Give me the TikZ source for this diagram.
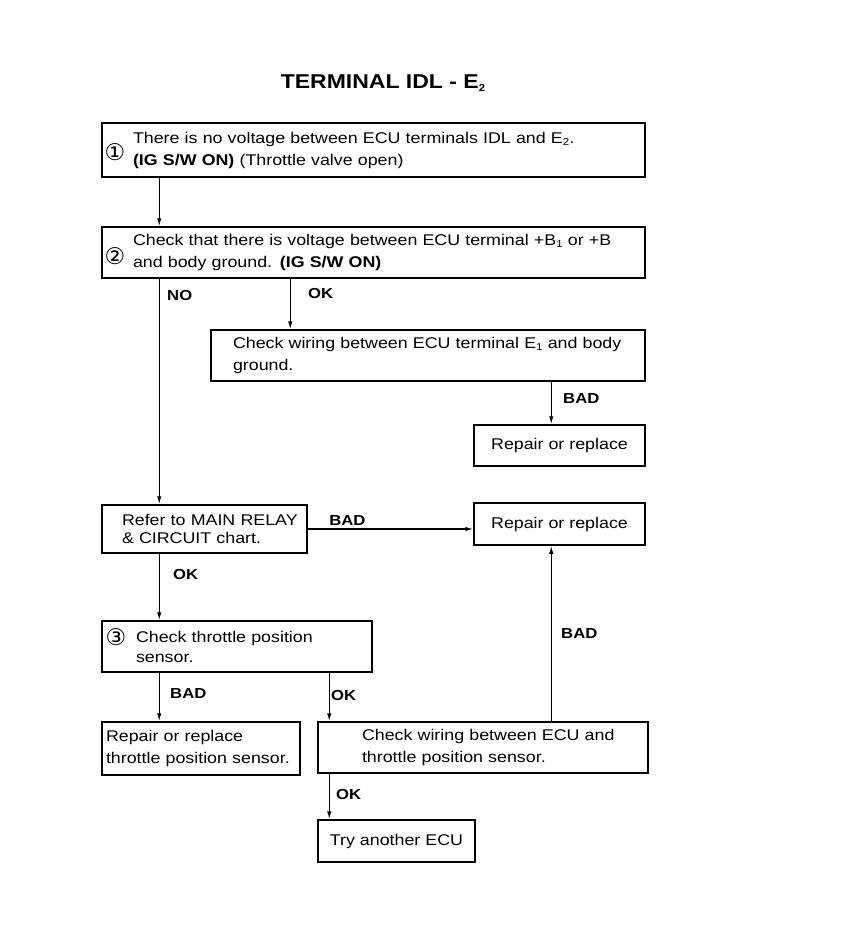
\documentclass[tikz,border=0pt]{standalone}
\usepackage{fontspec}
\setmainfont{Liberation Sans}[FakeStretch=1.15]
\newfontfamily\circfont{DejaVu Sans}
\usetikzlibrary{arrows.meta}
\newcommand{\lowidx}[1]{\raisebox{-0.25ex}{\fontsize{10}{10}\selectfont #1}}

\begin{document}
\begin{tikzpicture}[x=1pt, y=-1pt,
    box/.style={draw, line width=1.5pt, align=left, inner ysep=0pt, font=\fontsize{15.5}{22}\selectfont},
    flow/.style={line width=1.3pt, -{Latex[length=8pt, width=4.5pt]}},
    tag/.style={font=\bfseries\fontsize{14.5}{16}\selectfont},
    num/.style={font=\circfont\fontsize{23}{23}\selectfont, inner sep=0pt}]
    \useasboundingbox (0,0) rectangle (842,944);
    \node (title) at (383,83) {\bfseries\fontsize{20}{24}\selectfont TERMINAL IDL - E\lowidx{2}};

    % step 1 and 2
    \node [box, minimum width=543, minimum height=54, inner xsep=31, text width=481] (check1) at (373.5,150)
        {\mbox{There is no voltage between ECU terminals IDL and E\lowidx{2}.}\\ \mbox{\textbf{(IG S/W ON)} (Throttle valve open)}};
    \node [num] (n1) at (115,152) {①};
    \node [box, minimum width=543, minimum height=51, inner xsep=31, text width=481] (check2) at (373.5,252.5)
        {\mbox{Check that there is voltage between ECU terminal +B\lowidx{1} or +B}\\ \mbox{and body ground. \textbf{(IG S/W ON)}}};
    \node [num] (n2) at (115,256) {②};
    \node [box, minimum width=434, minimum height=51, inner xsep=22, text width=390] (wireE) at (428,355.5)
        {\mbox{Check wiring between ECU terminal E\lowidx{1} and body}\\ ground.};
    \node [box, align=center, minimum width=171, minimum height=41] (fixE) at (559.5,445.5) {Repair or replace};

    % main relay
    \node [box, minimum width=205, minimum height=48, inner xsep=20, text width=165, font=\fontsize{15.5}{18}\selectfont] (relay) at (204.5,529)
        {\mbox{Refer to MAIN RELAY}\\ \mbox{\& CIRCUIT chart.}};
    \node [box, align=center, minimum width=171, minimum height=42] (fixR) at (559.5,524) {Repair or replace};

    % step 3
    \node [box, minimum width=270, minimum height=51, inner xsep=34, text width=202, font=\fontsize{15.5}{20}\selectfont] (check3) at (237,646.5)
        {\mbox{Check throttle position}\\ sensor.};
    \node [num] (n3) at (116,637) {③};
    \node [box, minimum width=198, minimum height=53, inner xsep=4, text width=190] (fixS) at (201,748.5)
        {\mbox{Repair or replace}\\ \mbox{throttle position sensor.}};
    \node [box, minimum width=330, minimum height=51, inner xsep=44, text width=242] (wireS) at (483,747.5)
        {\mbox{Check wiring between ECU and}\\ \mbox{throttle position sensor.}};
    \node [box, align=center, minimum width=157, minimum height=42] (ecu) at (396.5,841) {Try another ECU};

    \draw [flow] ([xshift=58]check1.south west) -- ([xshift=58]check2.north west);
    \draw [flow] ([xshift=58]check2.south west) -- ([xshift=58]relay.north west) node [tag, pos=0.075, right, xshift=4] {NO};
    \draw [flow] ([xshift=189]check2.south west) -- ([xshift=80]wireE.north west) node [tag, pos=0.29, right, xshift=14] {OK};
    \draw [flow] ([xshift=341]wireE.south west) -- ([xshift=78]fixE.north west) node [tag, pos=0.39, right, xshift=8] {BAD};
    \draw [flow] (relay.east) -- (relay.east -| fixR.west) node [tag, pos=0.24, above] {BAD};
    \draw [flow] ([xshift=58]relay.south west) -- ([xshift=58]check3.north west) node [tag, pos=0.31, right, xshift=10] {OK};
    \draw [flow] ([xshift=58]check3.south west) -- ([xshift=58]fixS.north west) node [tag, pos=0.42, right, xshift=7] {BAD};
    \draw [flow] ([xshift=228]check3.south west) -- ([xshift=12]wireS.north west) node [tag, pos=0.46, right, xshift=-2] {OK};
    \draw [flow] ([xshift=234]wireS.north west) -- ([xshift=78]fixR.south west) node [tag, pos=0.5, right, xshift=6] {BAD};
    \draw [flow] ([xshift=12]wireS.south west) -- ([xshift=12]ecu.north west) node [tag, pos=0.45, right, xshift=3] {OK};
\end{tikzpicture}
\end{document}
